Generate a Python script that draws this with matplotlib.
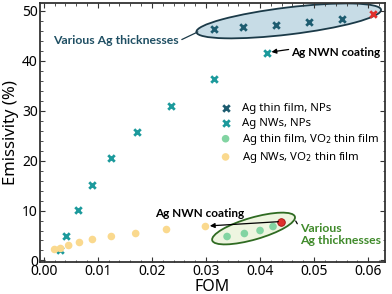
import numpy as np
import matplotlib
matplotlib.use('Agg')
import matplotlib.pyplot as plt
from matplotlib.patches import Ellipse
from matplotlib.ticker import AutoMinorLocator
import matplotlib.transforms as mtransforms

plt.rcParams['font.family'] = ['Noto Sans', 'DejaVu Sans']

# Ag thin film, NPs (last one = NWN coating, red)
film_np_fom = [0.0314, 0.0369, 0.0430, 0.0491, 0.0552]
film_np_em = [46.4, 46.8, 47.2, 47.8, 48.4]
# Ag NWs, NPs
nw_np_fom = [0.0030, 0.0042, 0.0063, 0.0089, 0.0125, 0.0173, 0.0236, 0.0314, 0.0413]
nw_np_em = [2.0, 5.0, 10.2, 15.2, 20.6, 25.8, 31.0, 36.4, 41.6]
# Ag thin film, VO2 thin film
film_vo2_fom = [0.0339, 0.0371, 0.0400, 0.0424]
film_vo2_em = [4.8, 5.4, 6.0, 6.8]
# Ag NWs, VO2 thin film
nw_vo2_fom = [0.0020, 0.0031, 0.0046, 0.0066, 0.0090, 0.0125, 0.0170, 0.0227, 0.0299]
nw_vo2_em = [2.2, 2.4, 3.0, 3.6, 4.2, 4.8, 5.4, 6.2, 6.8]
# NWN coated points (red)
red_x_fom, red_x_em = [0.0609], [49.4]
red_o_fom, red_o_em = [0.0439], [7.8]

c_dark = '#1d5c70'
c_teal = '#1c9a9c'
c_green = '#82d4a2'
c_yellow = '#fad98e'
c_red = '#e0302c'
bold_font = ['Lato', 'DejaVu Sans']

fig = plt.figure(figsize=(3.92, 2.94), dpi=100)
ax = fig.add_axes([0.102, 0.109, 0.880, 0.881])
ax.set_xlim(-0.0007, 0.0631)
ax.set_ylim(-0.3, 51.6)

def pix_ellipse(cx, cy, w, h, ang, fc, ec):
    # ellipse sized in pixels, centred on a data point
    tr = mtransforms.ScaledTranslation(cx, cy, ax.transData)
    e = Ellipse((0, 0), w, h, angle=ang, facecolor=fc, edgecolor=ec, lw=1.3, transform=tr, zorder=1)
    ax.add_patch(e)

pix_ellipse(0.0453, 48.0, 186, 27, 6.9, '#c7dce6', '#1b3a48')
pix_ellipse(0.0388, 6.4, 86, 22, 16, '#eef5e0', '#2f6b22')

ax.scatter(film_np_fom, film_np_em, marker='x', s=22, linewidths=2, color=c_dark, zorder=3, label='Ag thin film, NPs')
ax.scatter(nw_np_fom, nw_np_em, marker='x', s=22, linewidths=2, color=c_teal, zorder=3, label='Ag NWs, NPs')
ax.scatter(film_vo2_fom, film_vo2_em, marker='o', s=30, color=c_green, edgecolors='none', zorder=3, label='Ag thin film, VO$_2$ thin film')
ax.scatter(nw_vo2_fom, nw_vo2_em, marker='o', s=30, color=c_yellow, edgecolors='none', zorder=3, label='Ag NWs, VO$_2$ thin film')
ax.scatter(red_x_fom, red_x_em, marker='x', s=22, linewidths=2, color=c_red, zorder=3)
ax.scatter(red_o_fom, red_o_em, marker='o', s=30, color=c_red, edgecolors='#a01010', linewidths=0.6, zorder=3)

# annotations
ax.annotate('Various Ag thicknesses', xy=(0.0285, 45.8), xytext=(0.0134, 44.0),
            ha='center', va='center', fontsize=8.8, fontweight='bold', color='#1f4f63', family=bold_font,
            arrowprops=dict(arrowstyle='-', color='#1b3a48', lw=0.9, shrinkA=0, shrinkB=0,
                            relpos=(1.0, 0.5)))
ax.annotate('Ag NWN coating', xy=(0.0416, 41.7), xytext=(0.0458, 41.6),
            ha='left', va='center', fontsize=8.5, fontweight='bold', color='black', family=bold_font,
            arrowprops=dict(arrowstyle='-|>', color='black', lw=0.9, mutation_scale=7,
                            shrinkA=0, shrinkB=2, relpos=(0.05, 0.9)))
ax.annotate('', xy=(0.0302, 6.9), xytext=(0.0439, 7.8),
            arrowprops=dict(arrowstyle='-|>', color='black', lw=0.9, mutation_scale=7,
                            shrinkA=2, shrinkB=2))
ax.text(0.0288, 9.4, 'Ag NWN coating', ha='center', va='center', fontsize=8.5,
        fontweight='bold', color='black', family=bold_font)
ax.annotate('Various\nAg thicknesses', xy=(0.0466, 7.9), xytext=(0.0474, 5.2),
            ha='left', va='center', fontsize=8.8, fontweight='bold', color='#3f8a2a', family=bold_font,
            linespacing=1.15,
            arrowprops=dict(arrowstyle='-', color='black', lw=0.9, shrinkA=0, shrinkB=0,
                            relpos=(0.0, 0.75)))

ax.legend(loc='upper left', bbox_to_anchor=(0.505, 0.63), frameon=False, fontsize=8.2,
          handletextpad=0.8, labelspacing=0.28, borderaxespad=0, handlelength=1.2,
          scatterpoints=1)

ax.set_xlabel('FOM', fontsize=11.5, labelpad=0)
ax.set_ylabel('Emissivity (%)', fontsize=12, labelpad=2)
ax.set_xticks([0.0, 0.01, 0.02, 0.03, 0.04, 0.05, 0.06])
ax.set_xticklabels(['0.00', '0.01', '0.02', '0.03', '0.04', '0.05', '0.06'])
ax.set_yticks([0, 10, 20, 30, 40, 50])
ax.xaxis.set_minor_locator(AutoMinorLocator(5))
ax.yaxis.set_minor_locator(AutoMinorLocator(5))
ax.tick_params(which='both', direction='in', top=True, right=True, labelsize=10, pad=1.5, color='#333333')
ax.tick_params(which='major', length=3.5, width=0.8)
ax.tick_params(which='minor', length=1.8, width=0.6)
for s in ax.spines.values():
    s.set_linewidth(1.3)
    s.set_color('#333333')

fig.savefig('out.png', dpi=100)
